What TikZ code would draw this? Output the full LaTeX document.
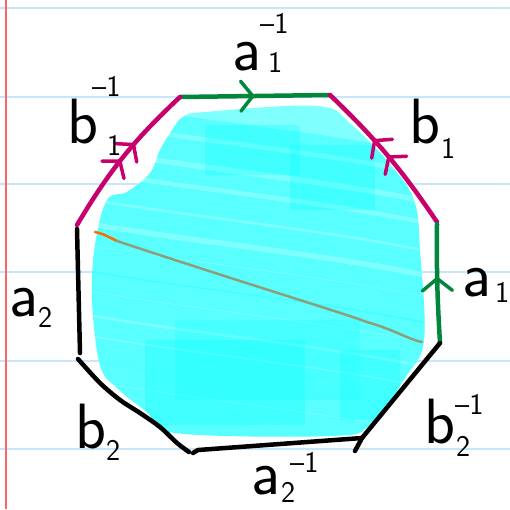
\documentclass[tikz,border=0pt]{standalone}
\usetikzlibrary{arrows.meta,decorations.markings}
\definecolor{paperline}{RGB}{200,230,250}
\definecolor{margin}{RGB}{255,100,100}
\definecolor{pgreen}{RGB}{0,135,60}
\definecolor{pmag}{RGB}{200,0,110}
\definecolor{lcyan}{RGB}{128,255,255}
\definecolor{dcyan}{RGB}{0,255,255}
\definecolor{olive}{RGB}{140,158,122}
\definecolor{porange}{RGB}{255,106,0}
\tikzset{
  edge/.style={line width=4.5pt,line cap=round,line join=round},
  gedge/.style={edge,draw=pgreen},
  medge/.style={edge,draw=pmag},
  kedge/.style={edge,draw=black},
  barbtip/.style={line width=3.5pt},
  onebarb/.style={postaction={decorate,decoration={markings,
     mark=at position #1 with {\arrow[barbtip]{Straight Barb[length=12pt,width=30pt,line cap=round]}}}}},
  twobarb/.style 2 args={postaction={decorate,decoration={markings,
     mark=at position #1 with {\arrow[barbtip]{Straight Barb[length=11pt,width=28pt,line cap=round]}},
     mark=at position #2 with {\arrow[barbtip]{Straight Barb[length=11pt,width=28pt,line cap=round]}}}}},
  lbl/.style={anchor=base west,inner sep=0pt,font=\sffamily\fontsize{64}{64}\selectfont},
  slbl/.style={anchor=base west,inner sep=0pt,font=\sffamily\fontsize{30}{30}\selectfont},
  scribble/.style={draw=dcyan,opacity=0.3,line width=#1,line cap=round}
}
\begin{document}
\begin{tikzpicture}[x=1pt,y=-1pt]
\useasboundingbox (0,0) rectangle (510,509);
\fill[white] (0,0) rectangle (510,509);
% paper
\foreach \yy in {8,97,184,272,361,449}
  \draw[paperline,line width=1.5pt] (0,\yy) -- (510,\yy);
\draw[margin,line width=1.5pt] (6,0) -- (6,509);
% cyan blob
\begin{scope}
\clip plot[smooth cycle,tension=0.6] coordinates {(183,117) (205,112) (317,106) (352,125) (395,170) (415,203) (420,250) (424,340) (405,378) (370,425) (330,436) (175,433) (147,412) (117,388) (100,365) (92,300) (95,245) (107,200) (127,192) (150,173) (160,150) (172,130)};
\fill[lcyan] (80,90) rectangle (440,450);
\foreach \y/\w in {110/18,135/22,160/16,185/24,210/20,235/18,258/26,280/20,302/22,325/18,348/24,370/20,392/22,412/18,432/20}
  \draw[scribble=\w pt] (85,\y) .. controls (200,\y+20) and (320,\y+30) .. (440,\y+55);
\fill[dcyan,opacity=0.25] (205,125) rectangle (300,175);
\fill[dcyan,opacity=0.25] (290,145) rectangle (375,210);
\fill[dcyan,opacity=0.25] (145,340) rectangle (305,425);
\fill[dcyan,opacity=0.2] (175,320) rectangle (360,400);
\fill[dcyan,opacity=0.25] (340,350) rectangle (400,420);
\end{scope}
% crossing line
\coordinate (o1) at (95,232);
\coordinate (o2) at (117,241);
\coordinate (o3) at (422,342);
\draw[porange,line width=2.5pt,line cap=round] (o1) .. controls (103,234) .. (o2);
\draw[olive,line width=2.5pt,line cap=round] (o2) .. controls (250,285) and (340,312) .. (367,322) .. controls (395,330) and (410,340) .. (o3);
% vertices
\coordinate (V1) at (180,97);
\coordinate (V2) at (330,95);
\coordinate (V3) at (437,222);
\coordinate (V4a) at (437,224);
\coordinate (V4) at (440,343);
\coordinate (V5) at (362,438);
\coordinate (V5h) at (355,451);
\coordinate (V6h) at (193,453);
\coordinate (V6) at (198,450);
\coordinate (V6b) at (189,452);
\coordinate (V7) at (78,359);
\coordinate (V7a) at (80,353);
\coordinate (V8) at (77,229);
\coordinate (V8m) at (77,225);
% edges
\draw[gedge,onebarb=0.5] (V1) -- (V2);
\draw[medge,twobarb={0.5}{0.63}] (V3) to[bend right=6] (V2);
\draw[medge,twobarb={0.48}{0.61}] (V8m) to[bend left=8] (V1);
\draw[gedge,onebarb=0.56] (V4) to[bend left=2] (V4a);
\draw[kedge] (V4) -- (V5) -- (V5h);
\draw[kedge] (V6h) -- (V6) -- (V5);
\draw[kedge] plot[smooth,tension=0.5] coordinates {(V7) (100,383) (120,400) (140,413) (160,427) (177,443) (V6b)};
\draw[kedge] (V8) -- (V7a);
% labels
\node[lbl] (La1i) at (232,70) {a};
\node[slbl] (La1i-sub) at (268,72) {1};
\node[slbl] (La1i-sup) at (260,33) {–1};
\node[lbl] (Lb1i) at (67,143) {b};
\node[slbl] (Lb1i-sub) at (107,155) {1};
\node[slbl] (Lb1i-sup) at (92,96) {–1};
\node[lbl] (Lb1) at (409,143) {b};
\node[slbl] (Lb1-sub) at (441,158) {1};
\node[lbl] (La1) at (462,296) {a};
\node[slbl] (La1-sub) at (495,302) {1};
\node[lbl] (La2) at (9,316) {a};
\node[slbl] (La2-sub) at (38,327) {2};
\node[lbl] (Lb2) at (75,448) {b};
\node[slbl] (Lb2-sub) at (106,460) {2};
\node[lbl] (La2i) at (251,494) {a};
\node[slbl] (La2i-sub) at (281,502) {2};
\node[slbl] (La2i-sup) at (290,472) {–1};
\node[lbl] (Lb2i) at (424,443) {b};
\node[slbl] (Lb2i-sub) at (456,456) {2};
\node[slbl] (Lb2i-sup) at (455,414) {–1};
\end{tikzpicture}
\end{document}
